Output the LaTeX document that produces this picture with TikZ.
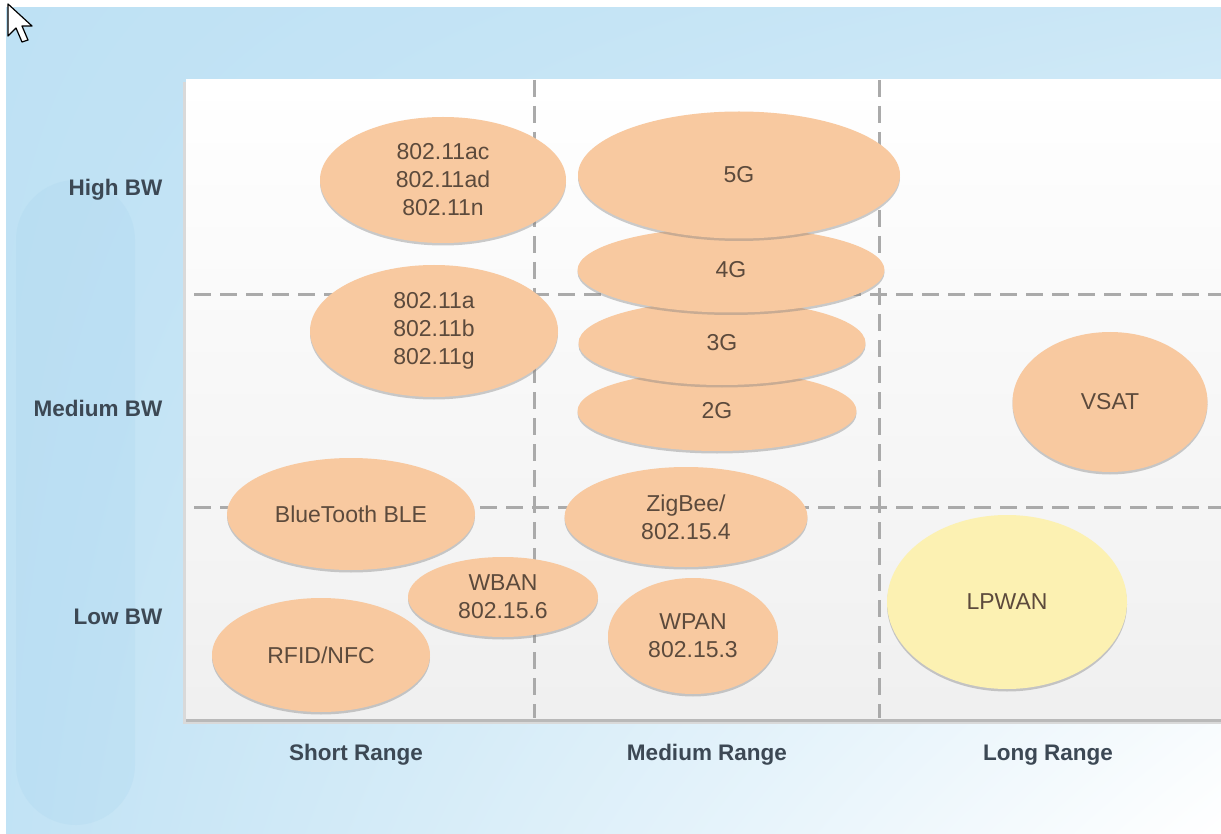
\documentclass[tikz,border=0pt]{standalone}
\usepackage{fontspec}
\setmainfont{Liberation Sans}
\usetikzlibrary{shapes.geometric,shadows,shadings}
\definecolor{bgblue}{RGB}{190,225,244}
\definecolor{deepblue}{RGB}{160,208,236}
\definecolor{peach}{RGB}{248,201,160}
\definecolor{pale}{RGB}{252,241,178}
\definecolor{ink}{RGB}{92,74,60}
\definecolor{slate}{RGB}{60,72,84}
\definecolor{gridgray}{RGB}{170,170,170}
\begin{document}
\begin{tikzpicture}[x=1pt, y=-1pt,
    blob/.style={ellipse, fill=peach, inner sep=0pt, text=ink, align=center,
      font=\fontsize{23}{28}\selectfont,
      drop shadow={opacity=.4, shadow xshift=0pt, shadow yshift=-2.5pt}},
    axislabel/.style={font=\bfseries\fontsize{22.5}{26}\selectfont, text=slate},
    gridline/.style={gridgray, line width=3pt, dash pattern=on 17pt off 9pt}]
  \useasboundingbox (0,0) rectangle (1221,834);

  % backdrop
  \fill[white] (0,0) rectangle (1221,834);
  \shade[upper left=bgblue, upper right=bgblue!80!white,
         lower left=bgblue!95!white, lower right=white] (6,8) rectangle (1221,834);
  \fill[deepblue, opacity=.18, rounded corners=60pt] (16,180) rectangle (135,825);

  % mouse pointer
  \draw[fill=white, line width=1.2pt, line join=round]
    (8,4) -- (8,36) -- (16,28) -- (22,42) -- (28,40) -- (22,26) -- (32,26) -- cycle;

  % chart panel
  \fill[gray!30] (183,82) rectangle (1221,724);
  \shade[top color=white, bottom color=gray!12] (186,80) rectangle (1221,720);
  \fill[gray!55] (186,719) rectangle (1221,722);
  \foreach \x in {534, 879}
    \draw[gridline] (\x,80) -- (\x,718);
  \foreach \y in {295, 507}
    \draw[gridline] (194,\y) -- (1221,\y);

  % short range
  \node[blob, minimum width=246pt, minimum height=126pt] (acadn) at (443,180)
    {802.11ac\\802.11ad\\802.11n};
  \node[blob, minimum width=248pt, minimum height=132pt] (abg) at (434,331)
    {802.11a\\802.11b\\802.11g};
  \node[blob, minimum width=248pt, minimum height=112pt] (ble) at (351,514)
    {BlueTooth BLE};
  \node[blob, minimum width=190pt, minimum height=80pt] (wban) at (503,597)
    {WBAN\\802.15.6};
  \node[blob, minimum width=218pt, minimum height=114pt] (rfid) at (321,655)
    {RFID/NFC};

  % medium range
  \node[blob, minimum width=279pt, minimum height=80pt] (gtwo) at (717,411) {2G};
  \node[blob, minimum width=287pt, minimum height=84pt] (gthree) at (722,343) {3G};
  \node[blob, minimum width=307pt, minimum height=85pt] (gfour) at (731,270) {4G};
  \node[blob, minimum width=322pt, minimum height=127pt] (gfive) at (739,175) {5G};
  \node[blob, minimum width=243pt, minimum height=100pt] (zigbee) at (686,517)
    {ZigBee/\\802.15.4};
  \node[blob, minimum width=170pt, minimum height=116pt] (wpan) at (693,636)
    {WPAN\\802.15.3};

  % long range
  \node[blob, minimum width=195pt, minimum height=140pt] (vsat) at (1110,402) {VSAT};
  \node[blob, fill=pale, minimum width=240pt, minimum height=174pt] (lpwan) at (1007,602)
    {LPWAN};

  % axes
  \node[axislabel, anchor=east] (high) at (166,190) {High BW};
  \node[axislabel, anchor=east] (medium) at (166,408) {Medium BW};
  \node[axislabel, anchor=east] (low) at (166,617) {Low BW};
  \node[axislabel] (short) at (356,755) {Short Range};
  \node[axislabel] (mid) at (707,755) {Medium Range};
  \node[axislabel] (long) at (1048,755) {Long Range};
\end{tikzpicture}
\end{document}
